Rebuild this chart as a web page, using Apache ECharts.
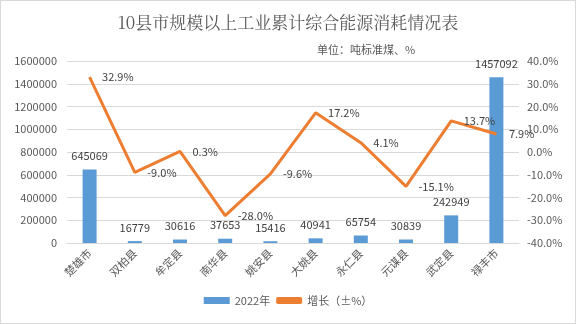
<!DOCTYPE html>
<html>
<head>
<meta charset="utf-8">
<script src="https://cdn.jsdelivr.net/npm/echarts@6/dist/echarts.min.js"></script>
<style>
  html, body { margin: 0; padding: 0; background: #fff; }
  #chart { width: 574px; height: 322px; border: 1px solid #d9d9d9; }
</style>
</head>
<body>
<div id="chart"></div>
<script>
// 10县市规模以上工业累计综合能源消耗
const counties = ['楚雄市', '双柏县', '牟定县', '南华县', '姚安县', '大姚县', '永仁县', '元谋县', '武定县', '禄丰市'];
const energy2022 = [645069, 16779, 30616, 37653, 15416, 40941, 65754, 30839, 242949, 1457092];
const growthPct = [32.9, -9.0, 0.3, -28.0, -9.6, 17.2, 4.1, -15.1, 13.7, 7.9];

const textColor = '#595959';
const font = '"Microsoft YaHei", "Noto Sans CJK SC", sans-serif';

const chart = echarts.init(document.getElementById('chart'));
chart.setOption({
  animation: false,
  textStyle: { fontFamily: font },
  title: [
    {
      text: '10县市规模以上工业累计综合能源消耗情况表',
      left: 'center', top: 8,
      textStyle: { fontSize: 17, fontWeight: 'normal', color: textColor, fontFamily: '"Noto Serif CJK SC", "Noto Sans CJK SC", serif' }
    },
    {
      text: '单位：吨标准煤、%',
      left: 311, top: 38,
      textStyle: { fontSize: 11, fontWeight: 'normal', color: textColor, fontFamily: '"Noto Sans CJK SC", sans-serif' }
    }
  ],
  legend: {
    bottom: 12, left: 'center',
    itemWidth: 26, itemHeight: 7, itemGap: 6,
    textStyle: { fontSize: 11, color: textColor },
    data: [
      { name: '2022年', icon: 'rect' },
      { name: '增长（±%）', icon: 'roundRect' }
    ]
  },
  grid: { left: 66, right: 56, top: 60, bottom: 80 },
  xAxis: {
    type: 'category',
    data: counties,
    axisLine: { lineStyle: { color: '#d9d9d9' } },
    axisTick: { show: false },
    axisLabel: { rotate: 45, color: textColor, fontSize: 11, margin: 8 }
  },
  yAxis: [
    {
      type: 'value', min: 0, max: 1600000, interval: 200000,
      axisLine: { show: false }, axisTick: { show: false },
      axisLabel: { color: textColor, fontSize: 11, margin: 10, formatter: v => String(v) },
      splitLine: { lineStyle: { color: '#d9d9d9' } }
    },
    {
      type: 'value', min: -40, max: 40, interval: 10,
      axisLine: { show: false }, axisTick: { show: false },
      axisLabel: { color: textColor, fontSize: 11, margin: 8, formatter: v => v.toFixed(1) + '%' },
      splitLine: { show: false }
    }
  ],
  series: [
    {
      name: '2022年', type: 'bar', yAxisIndex: 0,
      data: energy2022, barWidth: 14,
      itemStyle: { color: '#5b9bd5' },
      label: { show: true, position: 'top', distance: 8, color: '#404040', fontSize: 11 }
    },
    {
      name: '增长（±%）', type: 'line', yAxisIndex: 1,
      data: growthPct,
      symbol: 'circle', symbolSize: 1, showSymbol: true,
      lineStyle: { color: '#ed7d31', width: 3 },
      itemStyle: { color: '#ed7d31' },
      label: { show: true, position: 'right', distance: 12, color: '#404040', fontSize: 11, formatter: p => p.value.toFixed(1) + '%' },
      z: 5
    }
  ]
});
</script>
</body>
</html>
